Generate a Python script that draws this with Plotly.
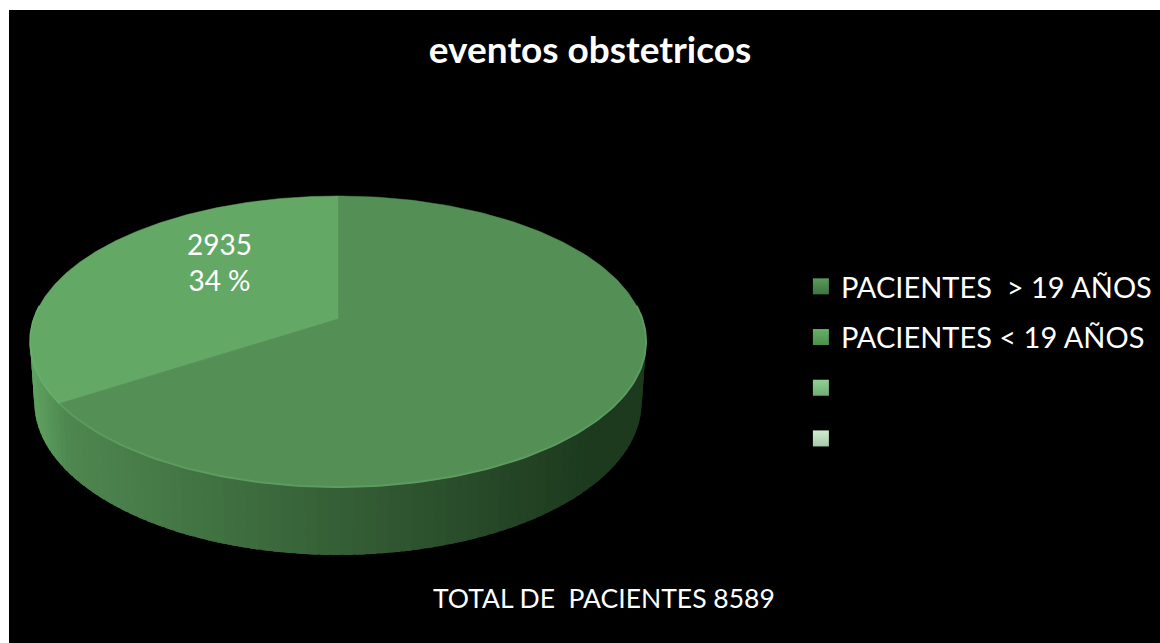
import numpy as np
import plotly.graph_objects as go

TITLE = "eventos obstetricos"
categories = ["PACIENTES\u00a0\u00a0> 19 AÑOS", "PACIENTES < 19 AÑOS", "\u00a0", "\u00a0\u00a0"]
values = [5654, 2935, 0, 0]
legend_colors = ["#5a9a5b", "#66b068", "#90d094", "#d0eed2"]
legend_shade = ["#3f7440", "#4c8f4e", "#6fae73", "#a5c9a8"]
top_colors = {0: "#548f55", 1: "#64a866"}
FOOT = "TOTAL DE\u00a0\u00a0PACIENTES 8589"
FONT = "Lato"

# projection of the flat disc (page-pixel axes)
CX, RX = 338.0, 304.3
C, A, B = 0.1546, -92.7, 319.0
KX, KY, T = 0.986, 1.05, 59.6


def rim(frac):
    th = 2 * np.pi * np.asarray(frac, float)
    u, v = np.sin(th), np.cos(th)
    d = 1 + C * v
    return CX + RX * u / d, (A * v + B) / d


def base(x, y):
    return CX + (x - CX) * KX, B + (y - B) * KY + T


def mix(a, b, t):
    ca = [int(a[i:i + 2], 16) for i in (1, 3, 5)]
    cb = [int(b[i:i + 2], 16) for i in (1, 3, 5)]
    return "rgb(%d,%d,%d)" % tuple(round(p + (q - p) * t) for p, q in zip(ca, cb))


total = sum(values)
big = values[0] / total
fig = go.Figure()


def poly(x, y, color, width=0):
    fig.add_trace(go.Scatter(x=list(x), y=list(y), mode="lines", fill="toself", fillcolor=color,
                             line=dict(color=color, width=width), showlegend=False, hoverinfo="skip"))


# side wall, in strips along the front of the rim; each overlaps the one before it
edges = np.linspace(0.235, 0.765, 100)
for f0, f1 in zip(edges[:-1], edges[1:]):
    fs = np.linspace(max(0.235, f0 - 0.004), f1, 4)
    x, y = rim(fs)
    bx, by = base(x, y)
    mid = (f0 + f1) / 2
    pos = (x.mean() - 30) / 616
    if mid < big:
        col = mix("#4f8750", "#1d3a1e", min(1, max(0, (pos - 0.05) / 0.85)))
    else:
        col = mix("#5fa261", "#4f8a50", min(1, max(0, pos / 0.05)))
    poly(np.r_[x, bx[::-1]], np.r_[y, by[::-1]], col)

# top faces
start = 0.0
for i, val in enumerate(values[:2]):
    fs = np.linspace(start, start + val / total, 240)
    x, y = rim(fs)
    poly(np.r_[CX, x, CX], np.r_[B, y, B], top_colors[i], 0.5)
    start += val / total

# light edge on the front of the top face
fs = np.linspace(0.235, big, 120)
x, y = rim(fs)
fig.add_trace(go.Scatter(x=x, y=y, mode="lines", line=dict(color="#5c9c5e", width=2),
                         showlegend=False, hoverinfo="skip"))
fs = np.linspace(big, 0.765, 60)
x, y = rim(fs)
fig.add_trace(go.Scatter(x=x, y=y, mode="lines", line=dict(color="#6ab06c", width=1.5),
                         showlegend=False, hoverinfo="skip"))

# legend
for name, col, shade in zip(categories, legend_colors, legend_shade):
    fig.add_trace(go.Scatter(x=[None], y=[None], mode="markers", name=name, legendgroup=name,
                             marker=dict(symbol="square", size=18, color=col,
                                         gradient=dict(type="vertical", color=shade)),
                             hoverinfo="skip"))

label = f"{values[1]}<br>{round(100 * values[1] / total)} %"
fig.add_annotation(x=219, y=262, text=label, showarrow=False, font=dict(family=FONT, size=28, color="white"))
fig.add_annotation(x=603.5, y=598, text=FOOT, showarrow=False, font=dict(family=FONT, size=26.5, color="white"))

fig.update_layout(
    width=1160, height=643, margin=dict(l=9, r=0, t=10, b=0, pad=0),
    paper_bgcolor="white", plot_bgcolor="black",
    title=dict(text=f"<b>{TITLE}</b>", x=590 / 1160, xanchor="center", y=1 - 50 / 643, yanchor="middle",
               font=dict(family=FONT, size=37, color="white")),
    xaxis=dict(range=[9, 1160], visible=False, fixedrange=True),
    yaxis=dict(range=[643, 10], visible=False, fixedrange=True),
    legend=dict(x=0.688, xanchor="left", y=0.6035, yanchor="top", tracegroupgap=10,
                itemwidth=30, bgcolor="rgba(0,0,0,0)", font=dict(family=FONT, size=29, color="white")),
    showlegend=True,
)
fig.write_html("out.html", config=dict(displayModeBar=False),
               post_script="document.body.style.margin='0';")
